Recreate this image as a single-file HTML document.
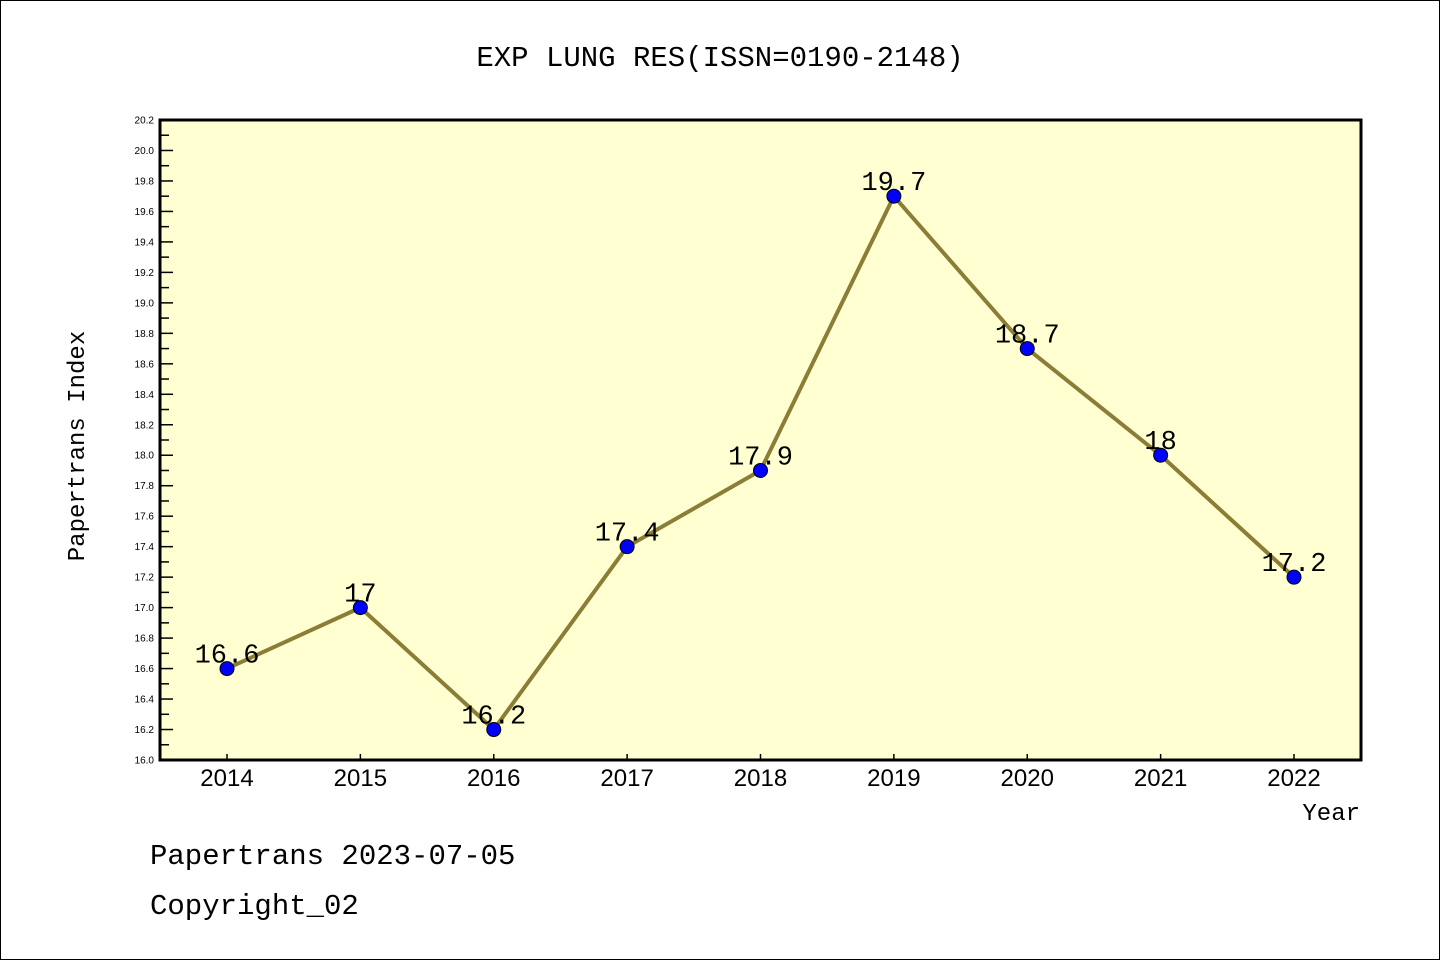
<!DOCTYPE html>
<html><head><meta charset="utf-8"><style>
body{margin:0;background:#fff}
svg{display:block}
.m{font-family:"Liberation Mono","WenQuanYi Zen Hei",monospace}
.s{font-family:"Liberation Sans","DejaVu Sans",sans-serif}
</style></head><body>
<svg id="chart" width="1440" height="960" xmlns="http://www.w3.org/2000/svg">
<rect x="0.5" y="0.5" width="1439" height="959" fill="#fff" stroke="#000"/>
<rect x="160" y="120" width="1201" height="640" fill="#ffffd2"/>
<text class="m" x="720" y="66" font-size="29" text-anchor="middle">EXP LUNG RES(ISSN=0190-2148)</text>
<text class="m" x="84" y="446" font-size="24" text-anchor="middle" transform="rotate(-90 84 446)">Papertrans Index</text>
<text class="m" x="1360" y="820" font-size="24" text-anchor="end">Year</text>
<text class="m" x="150" y="864" font-size="29">Papertrans 2023-07-05</text>
<text class="m" x="150" y="914" font-size="29">Copyright_02</text>
<g id="axes"></g>
<g id="marks"></g>
<rect x="160" y="120" width="1201" height="640" fill="none" stroke="#000" stroke-width="3"/>
</svg>
<script>
const years=[2014,2015,2016,2017,2018,2019,2020,2021,2022];
const values=[16.6,17.0,16.2,17.4,17.9,19.7,18.7,18.0,17.2];
const valueLabels=["16.6","17","16.2","17.4","17.9","19.7","18.7","18","17.2"];
const yMin=16.0,yMax=20.2;
const NS="http://www.w3.org/2000/svg";
const L=160,R=1361,T=120,B=760;
function x(i){return 227+i*(1294-227)/(years.length-1);}
function y(v){return B-(v-yMin)/(yMax-yMin)*(B-T);}
function mk(tag,attrs,parent){const e=document.createElementNS(NS,tag);for(const k in attrs)e.setAttribute(k,attrs[k]);parent.appendChild(e);return e;}
const ax=document.getElementById('axes'),mg=document.getElementById('marks');
for(let k=0;k<=42;k++){
  const v=yMin+k*0.1,yy=y(v),major=k%2===0;
  const t=mk('line',{x1:L,x2:L+(major?13:9),y1:yy,y2:yy,stroke:'#000','stroke-width':1.5},ax);
  
  
  if(major){
    const tx=mk('text',{x:L-6,y:yy+3.5,'font-size':10,'text-anchor':'end',class:'s'},ax);
    tx.textContent=v.toFixed(1);
    
    
  }
}
years.forEach((yr,i)=>{
  const t=mk('line',{x1:x(i),x2:x(i),y1:B,y2:B-6,stroke:'#000','stroke-width':1.5},ax);
  
  
  const tx=mk('text',{x:x(i),y:B+26,'font-size':24,'text-anchor':'middle',class:'s'},ax);
  tx.textContent=yr;
  
  
});
const line=mk('polyline',{points:values.map((v,i)=>x(i)+','+y(v)).join(' '),fill:'none',stroke:'#8b7d35','stroke-width':4,'stroke-linejoin':'round'},mg);


values.forEach((v,i)=>{
  const c=mk('circle',{cx:x(i),cy:y(v),r:7,fill:'#0000ff',stroke:'#000','stroke-width':1},mg);
  
  
  const tx=mk('text',{x:x(i),y:y(v)-6,'font-size':27,'text-anchor':'middle',class:'m'},mg);
  tx.textContent=valueLabels[i];
  
  
});
</script>
</body></html>
